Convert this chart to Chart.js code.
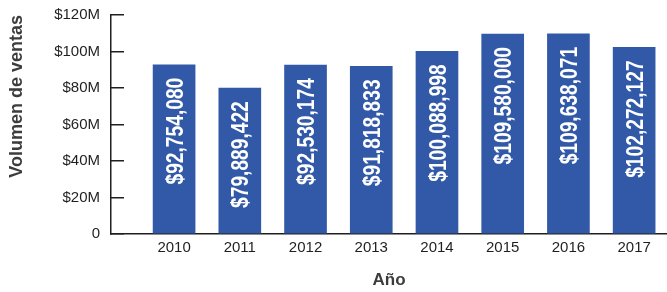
<!DOCTYPE html>
<html>
<head>
<meta charset="utf-8">
<script src="https://cdn.jsdelivr.net/npm/chart.js@4"></script>
<style>
  html, body { margin: 0; padding: 0; background: #fff; }
  #wrap { width: 667px; height: 292px; }
</style>
</head>
<body>
<div id="wrap"><canvas id="salesChart" width="667" height="292"></canvas></div>
<script>
// data
const years = ['2010', '2011', '2012', '2013', '2014', '2015', '2016', '2017'];
const sales = [92754080, 79889422, 92530174, 91818833, 100088998, 109580000, 109638071, 102272127];
const yTickValues = [0, 20e6, 40e6, 60e6, 80e6, 100e6, 120e6];
const yTickLabels = ['0', '$20M', '$40M', '$60M', '$80M', '$100M', '$120M'];

const barColor = '#3159a8';
const inkColor = '#1f1f1f';
const titleColor = '#3c3c3c';
const tickFont = { family: "'Liberation Sans', Arial, sans-serif", size: 15 };
const titleFont = { family: "'Liberation Sans', Arial, sans-serif", size: 17, weight: 'bold' };

const fmt = (v) => '$' + v.toLocaleString('en-US');

// white rotated value label inside each bar, near its top
const barLabels = {
  id: 'barLabels',
  afterDatasetsDraw(chart) {
    const ctx = chart.ctx;
    const meta = chart.getDatasetMeta(0);
    ctx.save();
    ctx.fillStyle = '#ffffff';
    ctx.font = "bold 24px 'Liberation Sans', Arial, sans-serif";
    ctx.textAlign = 'right';
    ctx.textBaseline = 'middle';
    meta.data.forEach((bar, i) => {
      const txt = fmt(sales[i]);
      const w = ctx.measureText(txt).width * 0.8;
      ctx.save();
      ctx.translate(bar.x + 1, bar.y + 13);
      ctx.rotate(-Math.PI / 2);
      ctx.fillText(txt, 0, 1, w);
      ctx.restore();
    });
    ctx.restore();
  }
};

new Chart(document.getElementById('salesChart'), {
  type: 'bar',
  data: {
    datasets: [{
      data: sales.map((v, i) => ({ x: i, y: v })),
      backgroundColor: barColor,
      borderWidth: 0,
      barThickness: 42
    }]
  },
  options: {
    responsive: false,
    animation: false,
    layout: { padding: { top: 15, right: 0, bottom: 0, left: 0 } },
    plugins: { legend: { display: false }, tooltip: { enabled: false } },
    scales: {
      x: {
        type: 'linear',
        offset: false,
        min: -0.96,
        max: 7.5,
        afterBuildTicks: (s) => { s.ticks = years.map((_, i) => ({ value: i })); },
        afterFit: (s) => { s.height = 58; s.paddingLeft = 0; s.paddingRight = 0; },
        ticks: {
          color: inkColor,
          font: tickFont,
          padding: 5,
          autoSkip: false,
          maxRotation: 0,
          callback: (v) => years[v] ?? ''
        },
        grid: { display: true, drawOnChartArea: false, drawTicks: false },
        border: { display: true, color: inkColor, width: 1.5 },
        title: {
          display: true,
          text: 'Año',
          color: titleColor,
          font: titleFont,
          padding: { top: 0, bottom: 1 }
        }
      },
      y: {
        min: 0,
        max: 120e6,
        afterBuildTicks: (s) => { s.ticks = yTickValues.map((v) => ({ value: v })); },
        // labels sit 11px left of the axis while the tick marks point inward,
        // so drop the extra vertical padding Chart.js adds for the tick padding
        afterFit: (s) => { s.width = 111; s.paddingTop = 0; s.paddingBottom = 0; },
        ticks: {
          color: inkColor,
          font: tickFont,
          padding: 24,
          callback: (v) => yTickLabels[yTickValues.indexOf(v)]
        },
        grid: {
          display: true,
          drawOnChartArea: false,
          drawTicks: true,
          tickLength: -13,
          color: inkColor,
          lineWidth: 1.5
        },
        border: { display: true, color: inkColor, width: 1.5 },
        title: {
          display: true,
          text: 'Volumen de ventas',
          align: 'end',
          color: titleColor,
          font: { ...titleFont, size: 18 },
          padding: { top: 6, bottom: 0 }
        }
      }
    }
  },
  plugins: [barLabels]
});
</script>
</body>
</html>
